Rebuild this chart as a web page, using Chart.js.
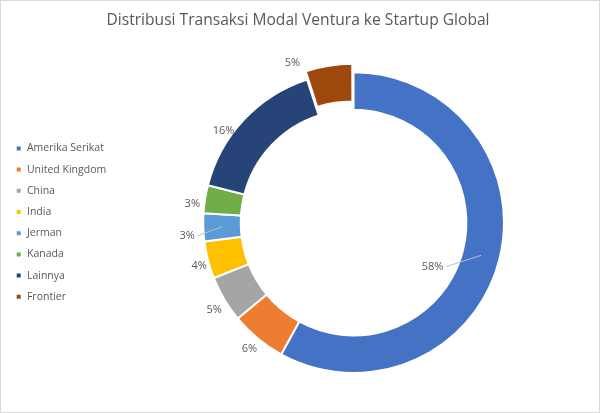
<!DOCTYPE html>
<html>
<head>
<meta charset="utf-8">
<script src="https://cdn.jsdelivr.net/npm/chart.js@4.4.1/dist/chart.umd.min.js"></script>
<style>
  html, body { margin: 0; padding: 0; background: #fff; }
  .wrap { position: relative; width: 600px; height: 413px; }
</style>
</head>
<body>
<div class="wrap"><canvas id="myChart"></canvas></div>
<script>
//chart data
const countries = ['Amerika Serikat', 'United Kingdom', 'China', 'India', 'Jerman', 'Kanada', 'Lainnya', 'Frontier'];
const shares = [58, 6, 5, 4, 3, 3, 16, 5];
const sliceColors = ['#4472C4', '#ED7D31', '#A5A5A5', '#FFC000', '#5B9BD5', '#70AD47', '#264478', '#9E480E'];

const ctx = document.getElementById('myChart');
const textGray = '#595959';
const fontFamily = "'Open Sans', 'Noto Sans', sans-serif";

// where excel put each percent label: angle nudge (deg), distance from outer edge, leader line
const labelSpots = [
  { da: 14.7, dr: -60, line: true },
  { da: 0, dr: 13 },
  { da: -1.4, dr: 14 },
  { da: -1.2, dr: 10 },
  { da: -2.7, dr: 16.5, line: true },
  { da: -2.3, dr: 12 },
  { da: -7.9, dr: 9 },
  { da: -11.9, dr: 21 }
];

const frameBorder = {
  id: 'frameBorder',
  beforeDraw(chart) {
    const c = chart.ctx;
    c.save();
    c.fillStyle = '#fff';
    c.fillRect(0, 0, chart.width, chart.height);
    c.strokeStyle = '#d9d9d9';
    c.lineWidth = 1;
    c.strokeRect(0.5, 0.5, chart.width - 1, chart.height - 1);
    c.restore();
  }
};

const percentLabels = {
  id: 'percentLabels',
  afterDatasetsDraw(chart) {
    const c = chart.ctx;
    const meta = chart.getDatasetMeta(0);
    const total = shares.reduce((a, b) => a + b, 0);
    c.save();
    c.font = '11px ' + fontFamily;
    c.fillStyle = textGray;
    c.textAlign = 'center';
    c.textBaseline = 'middle';
    meta.data.forEach((arc, i) => {
      const { x, y, startAngle, endAngle, outerRadius, innerRadius } = arc.getProps(['x', 'y', 'startAngle', 'endAngle', 'outerRadius', 'innerRadius'], true);
      const spot = labelSpots[i];
      const mid = (startAngle + endAngle) / 2;
      const ang = mid + spot.da * Math.PI / 180;
      const r = outerRadius + spot.dr;
      const lx = x + Math.cos(ang) * r;
      const ly = y + Math.sin(ang) * r;
      const text = Math.round(shares[i] / total * 100) + '%';
      c.fillText(text, lx, ly);
      if (spot.line) {
        const w = c.measureText(text).width;
        const rm = (outerRadius + innerRadius) / 2;
        const ex = x + Math.cos(mid) * rm;
        const ey = y + Math.sin(mid) * rm;
        const sx = ex > lx ? lx + w / 2 + 3 : lx - w / 2 - 3;
        c.strokeStyle = '#bfbfbf';
        c.lineWidth = 1;
        c.beginPath();
        c.moveTo(sx, ly);
        c.lineTo(ex, ey);
        c.stroke();
      }
    });
    c.restore();
  }
};

const ventureChart = new Chart(ctx, {
  type: 'doughnut',
  data: {
    labels: countries,
    datasets: [{
      data: shares,
      backgroundColor: sliceColors,
      borderColor: '#fff',
      borderWidth: 2,
      offset: [0, 0, 0, 0, 0, 0, 0, 20],
      hoverOffset: 0
    }]
  },
  options: {
    responsive: true,
    maintainAspectRatio: false,
    animation: false,
    cutout: '75%',
    layout: {
      padding: { left: 5, top: 0, right: 9, bottom: 29 }
    },
    plugins: {
      title: {
        display: true,
        text: 'Distribusi Transaksi Modal Ventura ke Startup Global',
        color: textGray,
        font: { family: fontFamily, size: 15.6, weight: 'normal' },
        padding: { top: 11, bottom: 31.5 }
      },
      legend: {
        position: 'left',
        fullSize: false,
        labels: {
          boxWidth: 6,
          boxHeight: 6,
          padding: 10.7,
          color: textGray,
          font: { family: fontFamily, size: 10.5 }
        }
      },
      tooltip: { enabled: false }
    }
  },
  plugins: [frameBorder, percentLabels]
});
</script>
</body>
</html>
